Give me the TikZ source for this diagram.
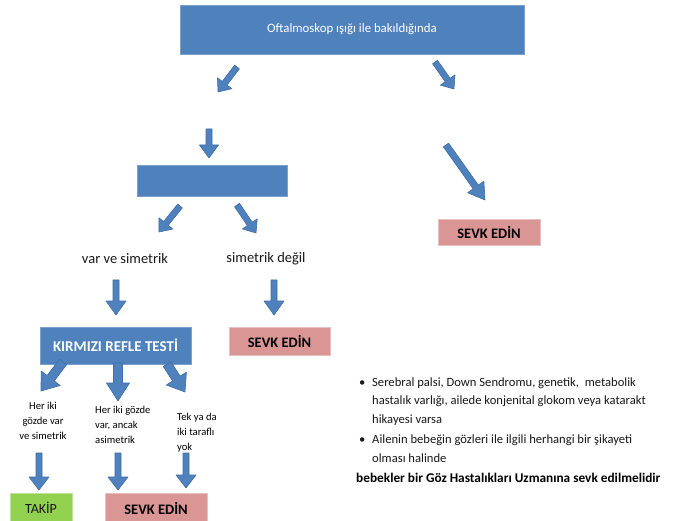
\documentclass[tikz,border=0pt]{standalone}
\usepackage{fontspec}
\setmainfont{Carlito}
\usetikzlibrary{calc}
\definecolor{boxblue}{HTML}{4F81BD}
\definecolor{arrline}{HTML}{3F6FA8}
\definecolor{pinkfill}{HTML}{D99694}
\definecolor{greenfill}{HTML}{92D050}
\newcommand{\blockarr}[5]{%
  \coordinate (bah) at ($(#2)!#5!(#1)$);
  \filldraw[arrowstyle] ($(#1)!#3!90:(#2)$) -- ($(bah)!#3!90:(#2)$) -- ($(bah)!#4!90:(#2)$) -- (#2) -- ($(bah)!#4!-90:(#2)$) -- ($(bah)!#3!-90:(#2)$) -- ($(#1)!#3!-90:(#2)$) -- cycle;
}
\begin{document}
\begin{tikzpicture}[x=1pt,y=-1pt,
  bluebox/.style={fill=boxblue, draw=boxblue!75!white, line width=0.8pt, inner sep=0pt, text=white},
  pinkbox/.style={fill=pinkfill, draw=pinkfill!60!white, line width=0.8pt, inner sep=0pt, text=black, font=\fontsize{14.5}{16}\selectfont\bfseries},
  greenbox/.style={fill=greenfill, draw=greenfill!60!white, line width=0.8pt, inner sep=0pt, text=black!90, font=\fontsize{14}{15}\selectfont},
  arrowstyle/.style={fill=boxblue, draw=arrline, line width=0.6pt, line join=round},
  lbl/.style={inner sep=0pt, text=black!90},
  small/.style={inner sep=0pt, text=black, font=\fontsize{10.6}{15}\selectfont},
  rtext/.style={inner sep=0pt, anchor=base west, text=black!90, font=\fontsize{12.6}{15}\selectfont}]
\useasboundingbox (0,0) rectangle (677,521);
\fill[white] (0,0) rectangle (677,521);

% boxes
\node[bluebox, minimum width=344pt, minimum height=49pt, font=\fontsize{12.8}{14}\selectfont] (top) at (352,29.5) {Oftalmoskop ışığı ile bakıldığında};
\node[bluebox, minimum width=150pt, minimum height=31pt] (mid) at (212,180.5) {};
\node[pinkbox, minimum width=102pt, minimum height=26pt] (sevk1) at (489,232) {SEVK EDİN};
\node[pinkbox, minimum width=101pt, minimum height=28pt] (sevk2) at (279.5,341.5) {SEVK EDİN};
\node[bluebox, minimum width=151pt, minimum height=37pt, font=\fontsize{15}{16}\selectfont\bfseries] (krt) at (115.5,345.5) {KIRMIZI REFLE TESTİ};
\node[greenbox, minimum width=62pt, minimum height=30pt] (takip) at (41,508) {TAKİP};
\node[pinkbox, minimum width=102pt, minimum height=30pt] (sevk3) at (156,508) {SEVK EDİN};

% labels
\node[lbl, font=\fontsize{14.5}{16}\selectfont] (vs) at (125,259) {var ve simetrik};
\node[lbl, font=\fontsize{14.5}{16}\selectfont] (sd) at (266,259) {simetrik değil};
\node[small, align=center] (t1) at (43,421) {Her iki\\gözde var\\ve simetrik};
\node[small, align=left, anchor=west] (t2) at (95,425) {Her iki gözde\\var, ancak\\asimetrik};
\node[small, align=left, anchor=west] (t3) at (177,433) {Tek ya da\\iki taraflı\\yok};

% right text
\node[rtext] (b1) at (359,386) {•};
\node[rtext] (r1) at (372,386) {Serebral palsi, Down Sendromu, genetik,\ \ metabolik};
\node[rtext] (r2) at (372,404) {hastalık varlığı, ailede konjenital glokom veya katarakt};
\node[rtext] (r3) at (372,423) {hikayesi varsa};
\node[rtext] (b2) at (359,443) {•};
\node[rtext] (r4) at (372,443) {Ailenin bebeğin gözleri ile ilgili herhangi bir şikayeti};
\node[rtext] (r5) at (372,462) {olması halinde};
\node[rtext, text=black, font=\fontsize{13.3}{15}\selectfont\bfseries] (r6) at (356,482) {bebekler bir Göz Hastalıkları Uzmanına sevk edilmelidir};

% arrow coordinates
\coordinate (a1s) at (237,67);  \coordinate (a1e) at (218,92);
\coordinate (a2s) at (435,62);  \coordinate (a2e) at (454,89);
\coordinate (a3s) at (209,129); \coordinate (a3e) at (209,158);
\coordinate (a4s) at (180,206); \coordinate (a4e) at (159,232);
\coordinate (a5s) at (237,205); \coordinate (a5e) at (256,233);
\coordinate (a6s) at (446,145); \coordinate (a6e) at (485,200);
\coordinate (a7s) at (116,280); \coordinate (a7e) at (116,315);
\coordinate (a8s) at (274,280); \coordinate (a8e) at (274,315);
\coordinate (a9s) at (63,362);  \coordinate (a9e) at (41,391);
\coordinate (a10s) at (118,363); \coordinate (a10e) at (118,401);
\coordinate (a11s) at (167,364); \coordinate (a11e) at (185,392);
\coordinate (a12s) at (39,453);  \coordinate (a12e) at (39,490);
\coordinate (a13s) at (118,453); \coordinate (a13e) at (118,490);
\coordinate (a14s) at (186,453); \coordinate (a14e) at (186,488);

\blockarr{a1s}{a1e}{3pt}{9pt}{11pt}
\blockarr{a2s}{a2e}{3pt}{9pt}{11pt}
\blockarr{a3s}{a3e}{3pt}{9.5pt}{13pt}
\blockarr{a4s}{a4e}{3pt}{9pt}{11pt}
\blockarr{a5s}{a5e}{3pt}{9pt}{11pt}
\blockarr{a6s}{a6e}{3.2pt}{10pt}{16pt}
\blockarr{a7s}{a7e}{3pt}{10pt}{14pt}
\blockarr{a8s}{a8e}{3pt}{10pt}{14pt}
\blockarr{a9s}{a9e}{4.5pt}{12pt}{16pt}
\blockarr{a10s}{a10e}{4.5pt}{11.5pt}{18pt}
\blockarr{a11s}{a11e}{4.5pt}{12pt}{16pt}
\blockarr{a12s}{a12e}{3pt}{10pt}{13pt}
\blockarr{a13s}{a13e}{3pt}{10pt}{13pt}
\blockarr{a14s}{a14e}{3pt}{10pt}{13pt}
\end{tikzpicture}
\end{document}
